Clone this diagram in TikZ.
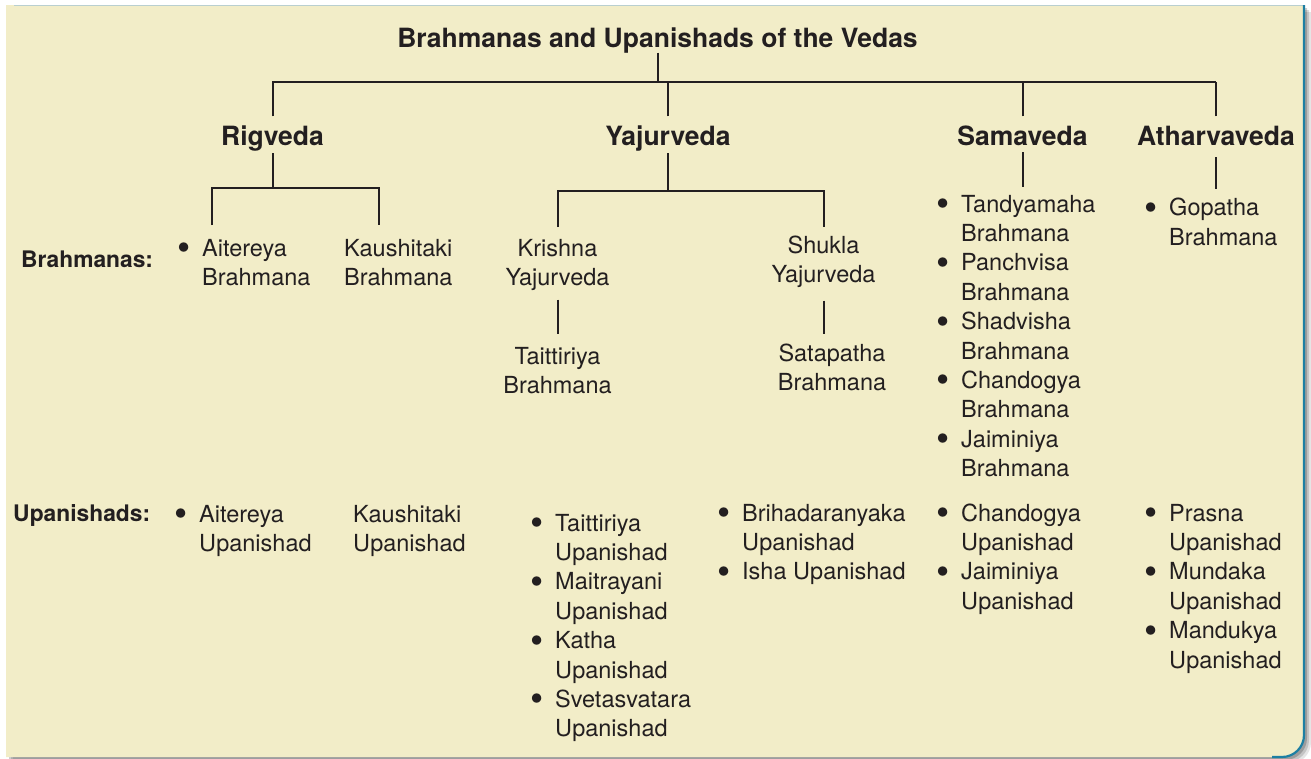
\documentclass[tikz,border=0pt]{standalone}
\usepackage{fontspec}
\usepackage{graphicx}
\setmainfont{TeX Gyre Heros}
\usetikzlibrary{calc}
\definecolor{cream}{HTML}{F2EDC8}
\definecolor{ink}{HTML}{231F20}
\definecolor{rim}{HTML}{1D7FA3}
\definecolor{topline}{HTML}{B9CFD0}
\newcommand{\itembul}{\leavevmode\llap{\raisebox{-4.5pt}{\scalebox{1.6}{\textbullet}}\hspace{12pt}}}
\begin{document}
\begin{tikzpicture}[x=1pt,y=-1pt,
  conn/.style={draw=ink, line width=2pt},
  headtxt/.style={font=\fontsize{26.5}{30}\selectfont\bfseries, text=ink, inner sep=0pt, text height=19.5pt, text depth=5.5pt, anchor=base},
  rowlab/.style={font=\fontsize{22.8}{29}\selectfont\bfseries, text=ink, inner sep=0pt, anchor=base west},
  body/.style={font=\fontsize{23.5}{29.4}\selectfont, text=ink, inner sep=0pt},
  lst/.style={body, align=left, anchor=base west},
  ctr/.style={body, align=center, anchor=base}]
\useasboundingbox (0,0) rectangle (1311,758);
\fill[white] (0,0) rectangle (1311,758);
% shadow
\foreach \d/\op in {7/0.10,5/0.14,3/0.20}{
  \fill[black,opacity=\op] (6+\d,5+\d) -- (1304+\d,5+\d) -- (1304+\d,735+\d) .. controls (1304+\d,747.2+\d) and (1294.2+\d,757+\d) .. (1282+\d,757+\d) -- (6+\d,757+\d) -- cycle;
}
% panel
\fill[cream] (6,5) -- (1304,5) -- (1304,735) .. controls (1304,747.2) and (1294.2,757) .. (1282,757) -- (6,757) -- cycle;
\draw[topline, line width=1.2pt] (14,5.6) -- (1303,5.6);
\draw[rim, line width=2.2pt] (1304,5) -- (1304,735) .. controls (1304,747.2) and (1294.2,757) .. (1282,757) -- (1272,757);

% headings
\node[headtxt] (title) at (657.5,47) {Brahmanas and Upanishads of the Vedas};
\node[headtxt] (rig) at (272.5,145) {Rigveda};
\node[headtxt] (yaj) at (668,145) {Yajurveda};
\node[headtxt] (sam) at (1022.5,145) {Samaveda};
\node[headtxt] (ath) at (1216,145) {Atharvaveda};

\coordinate (j0) at (657.5,82);
\draw[conn] (title.south) -- (j0);
\draw[conn,shorten <=9pt] (rig.north) |- (ath.north |- j0);
\draw[conn,shorten <=9pt] (yaj.north) -- (yaj.north |- j0);
\draw[conn,shorten <=9pt] (sam.north) -- (sam.north |- j0);
\draw[conn,shorten <=9pt] (ath.north) -- (ath.north |- j0);

% row labels
\node[rowlab] (lb) at (21,267) {Brahmanas:};
\node[rowlab] (lu) at (13,521) {Upanishads:};

% Rigveda branch (multi-line nodes are placed by the baseline of their last line)
\coordinate (rj) at (272.5,188);
\coordinate (ra) at (212,225);
\coordinate (rb) at (379,225);
\draw[conn,shorten <=2.5pt] (rig.south) -- (rj);
\draw[conn] (ra) |- (rj) -| (rb);
\node[lst] (rbA) at (202,285.4) {\itembul Aitereya\\Brahmana};
\node[lst] (rbB) at (344,285.4) {Kaushitaki\\Brahmana};

% Yajurveda branch
\coordinate (yj) at (668,191);
\coordinate (ya) at (557.5,227);
\coordinate (yb) at (823.5,227);
\draw[conn,shorten <=2.5pt] (yaj.south) -- (yj);
\draw[conn] (ya) |- (yj) -| (yb);
\node[ctr] (kri) at (557.5,285.4) {Krishna\\Yajurveda};
\node[ctr] (tai) at (557.5,393.4) {Taittiriya\\Brahmana};
\draw[conn,shorten <=9pt,shorten >=12.7pt] (kri.south) -- (tai.north);
\node[ctr] (shu) at (823.5,282.4) {Shukla\\Yajurveda};
\node[ctr] (sat) at (832,390.4) {Satapatha\\Brahmana};
\draw[conn,shorten <=13pt,shorten >=9pt] (shu.south) -- (shu.south |- sat.north);

% Samaveda branch
\node[lst] (saml) at (961,476.6) {\itembul Tandyamaha\\Brahmana\\\itembul Panchvisa\\Brahmana\\\itembul Shadvisha\\Brahmana\\\itembul Chandogya\\Brahmana\\\itembul Jaiminiya\\Brahmana};
\draw[conn,shorten <=1.5pt,shorten >=8pt] (sam.south) -- (sam.south |- saml.north);

% Atharvaveda branch
\node[lst] (athl) at (1169,245) {\itembul Gopatha\\Brahmana};
\draw[conn,shorten <=6.5pt,shorten >=9pt] (ath.south) -- (ath.south |- athl.north);

% Upanishads row
\node[lst] (uA) at (199,551.4) {\itembul Aitereya\\Upanishad};
\node[lst] (uK) at (353,551.4) {Kaushitaki\\Upanishad};
\node[lst] (uY) at (555,736.8) {\itembul Taittiriya\\Upanishad\\\itembul Maitrayani\\Upanishad\\\itembul Katha\\Upanishad\\\itembul Svetasvatara\\Upanishad};
\node[lst] (uS) at (742,579.8) {\itembul Brihadaranyaka\\Upanishad\\\itembul Isha Upanishad};
\node[lst] (uSa) at (961,609.2) {\itembul Chandogya\\Upanishad\\\itembul Jaiminiya\\Upanishad};
\node[lst] (uAt) at (1169,668) {\itembul Prasna\\Upanishad\\\itembul Mundaka\\Upanishad\\\itembul Mandukya\\Upanishad};
\end{tikzpicture}
\end{document}
